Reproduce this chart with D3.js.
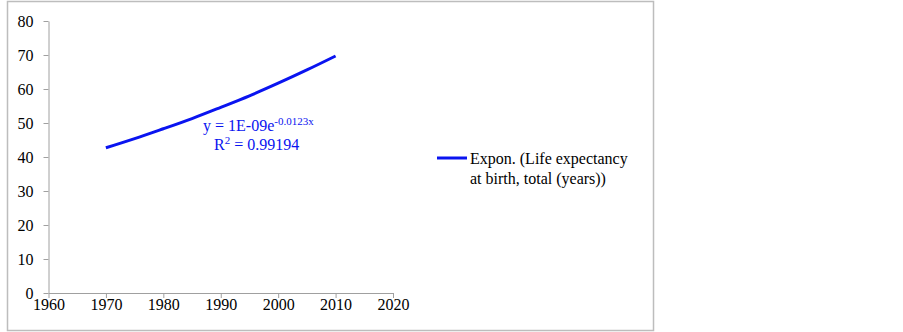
<!DOCTYPE html>
<html>
<head>
<meta charset="utf-8">
<script src="https://cdn.jsdelivr.net/npm/d3@7"></script>
<style>
  body { margin: 0; background: #fff; }
  svg text { font-family: "Liberation Serif", "DejaVu Serif", Times, serif; }
</style>
</head>
<body>
<div id="viz"></div>
<script>
const width = 903;
const height = 332;
const margin = {top: 21, left: 48.5, bottom: 39, right: 510};
const serif = '"Liberation Serif", "DejaVu Serif", Times, serif';

// trend line values
const years = [1970, 1975, 1980, 1985, 1990, 1995, 2000, 2005, 2010];
const lifeExp = [42.7, 45.4, 48.3, 51.3, 54.6, 58.0, 61.7, 65.6, 69.7];
const xTicks = [1960, 1970, 1980, 1990, 2000, 2010, 2020];
const yTicks = [0, 10, 20, 30, 40, 50, 60, 70, 80];
const legendLines = ['Expon. (Life expectancy', 'at birth, total (years))'];
const blue = '#0a14f0';

const data = years.map((y, i) => ({year: y, value: lifeExp[i]}));

const svg = d3.select('#viz')
  .append('svg')
    .attr('width', width)
    .attr('height', height)
    .attr('font-family', serif);

// outer chart frame
svg.append('rect')
    .attr('x', 7.5).attr('y', 1.5)
    .attr('width', 646).attr('height', 329)
    .attr('fill', 'none')
    .attr('stroke', '#bdbdbd')
    .attr('stroke-width', 1.5);

const x = d3.scaleLinear()
    .domain([1960, 2020])
    .range([margin.left, 393]);
const y = d3.scaleLinear()
    .domain([0, 80])
    .range([293, margin.top]);

const xAxis = svg.append('g')
    .attr('transform', `translate(0,${y(0)})`)
    .call(d3.axisBottom(x).tickValues(xTicks).tickFormat(d3.format('d')).tickSize(5).tickSizeOuter(0));
const yAxis = svg.append('g')
    .attr('transform', `translate(${x(1960)},0)`)
    .call(d3.axisLeft(y).tickValues(yTicks).tickSize(5).tickSizeOuter(0));

[xAxis, yAxis].forEach(g => {
  g.attr('font-family', serif).attr('font-size', 16);
  g.select('.domain').attr('stroke', '#a0a0a0');
  g.selectAll('.tick line').attr('stroke', '#a0a0a0');
  g.selectAll('.tick text').attr('fill', '#000');
});
xAxis.selectAll('.tick text').attr('dy', '0').attr('y', 17);
yAxis.selectAll('.tick text').attr('x', -15).attr('dy', '0.35em');

// trend line
const line = d3.line()
    .x(d => x(d.year))
    .y(d => y(d.value))
    .curve(d3.curveNatural);
svg.append('path')
    .attr('d', line(data))
    .attr('fill', 'none')
    .attr('stroke', blue)
    .attr('stroke-width', 3);

// equation label
const eq = svg.append('text')
    .attr('x', 203).attr('y', 131)
    .attr('fill', blue)
    .attr('font-size', 16);
eq.append('tspan').text('y = 1E-09e');
eq.append('tspan').text('-0.0123x')
    .attr('dy', -6)
    .attr('font-size', 11);

const r2 = svg.append('text')
    .attr('x', 214).attr('y', 150)
    .attr('fill', blue)
    .attr('font-size', 16);
r2.append('tspan').text('R');
r2.append('tspan').text('2').attr('dy', -6).attr('font-size', 11);
r2.append('tspan').text(' = 0.99194').attr('dy', 6);

// legend
svg.append('line')
    .attr('x1', 437).attr('x2', 467)
    .attr('y1', 158).attr('y2', 158)
    .attr('stroke', blue)
    .attr('stroke-width', 3);
svg.append('g')
  .selectAll('text')
  .data(legendLines)
  .join('text')
    .attr('x', 470)
    .attr('y', (d, i) => 164 + i * 19.5)
    .attr('fill', '#000')
    .attr('font-size', 16)
    .text(d => d);
</script>
</body>
</html>
